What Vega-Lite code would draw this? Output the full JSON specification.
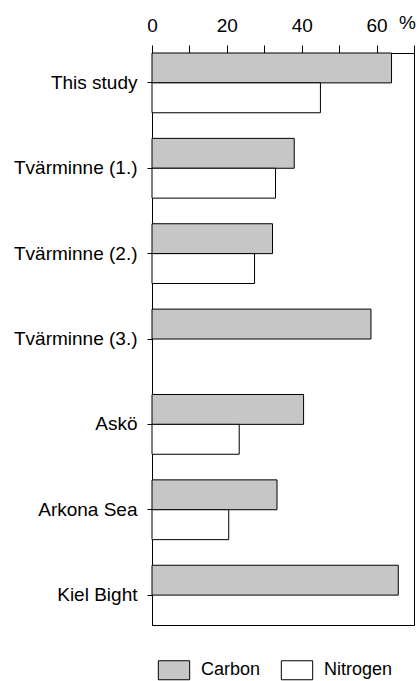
{
  "$schema": "https://vega.github.io/schema/vega-lite/v6.json",
  "width": 262,
  "height": 572,
  "autosize": {"type": "none"},
  "padding": {"left": 152, "top": 53, "right": 3, "bottom": 56},
  "background": "white",
  "config": {
    "font": "Liberation Sans",
    "view": {"stroke": "black", "strokeWidth": 1}
  },
  "data": {
    "values": [
      {"site": "This study", "element": "Carbon", "percent": 64},
      {"site": "This study", "element": "Nitrogen", "percent": 45},
      {"site": "Tvärminne (1.)", "element": "Carbon", "percent": 38},
      {"site": "Tvärminne (1.)", "element": "Nitrogen", "percent": 33},
      {"site": "Tvärminne (2.)", "element": "Carbon", "percent": 32.2},
      {"site": "Tvärminne (2.)", "element": "Nitrogen", "percent": 27.4},
      {"site": "Tvärminne (3.)", "element": "Carbon", "percent": 58.5},
      {"site": "Askö", "element": "Carbon", "percent": 40.5},
      {"site": "Askö", "element": "Nitrogen", "percent": 23.3},
      {"site": "Arkona Sea", "element": "Carbon", "percent": 33.4},
      {"site": "Arkona Sea", "element": "Nitrogen", "percent": 20.5},
      {"site": "Kiel Bight", "element": "Carbon", "percent": 65.8}
    ]
  },
  "mark": {"type": "bar", "stroke": "black", "strokeWidth": 1},
  "encoding": {
    "y": {
      "field": "site",
      "type": "nominal",
      "sort": ["This study", "Tvärminne (1.)", "Tvärminne (2.)", "Tvärminne (3.)", "Askö", "Arkona Sea", "Kiel Bight"],
      "scale": {"paddingInner": 0.3, "paddingOuter": 0},
      "axis": {
        "title": null,
        "domainColor": "black",
        "tickColor": "black",
        "tickSize": 5,
        "labelPadding": 10,
        "labelFontSize": 19,
        "labelColor": "black",
        "labelFont": "Liberation Sans"
      }
    },
    "yOffset": {
      "field": "element",
      "type": "nominal",
      "scale": {"domain": ["Carbon", "Nitrogen"], "paddingInner": 0, "paddingOuter": 0}
    },
    "x": {
      "field": "percent",
      "type": "quantitative",
      "scale": {"domain": [0, 70], "nice": false},
      "axis": {
        "orient": "top",
        "values": [0, 10, 20, 30, 40, 50, 60, 70],
        "labelExpr": "datum.value % 20 == 0 && datum.value < 70 ? datum.label : ''",
        "grid": false,
        "domainColor": "black",
        "tickColor": "black",
        "tickSize": 8,
        "labelPadding": 10,
        "labelFontSize": 19,
        "labelColor": "black",
        "labelFlush": false,
        "title": "%",
        "titleFontSize": 19,
        "titleFontWeight": "normal",
        "titleColor": "black",
        "titleX": 255,
        "titleY": -31,
        "titleAlign": "center",
        "titleBaseline": "middle"
      }
    },
    "fill": {
      "field": "element",
      "type": "nominal",
      "scale": {"domain": ["Carbon", "Nitrogen"], "range": ["#c6c6c6", "#ffffff"]},
      "legend": {
        "title": null,
        "orient": "none",
        "direction": "horizontal",
        "legendX": 12,
        "legendY": 607,
        "symbolType": "M-1.65,-1L1.65,-1L1.65,1L-1.65,1Z",
        "symbolSize": 361,
        "symbolStrokeColor": "black",
        "symbolStrokeWidth": 1,
        "symbolOpacity": 1,
        "labelFontSize": 18,
        "labelColor": "black",
        "labelOffset": 17,
        "columnPadding": 18
      }
    }
  }
}
